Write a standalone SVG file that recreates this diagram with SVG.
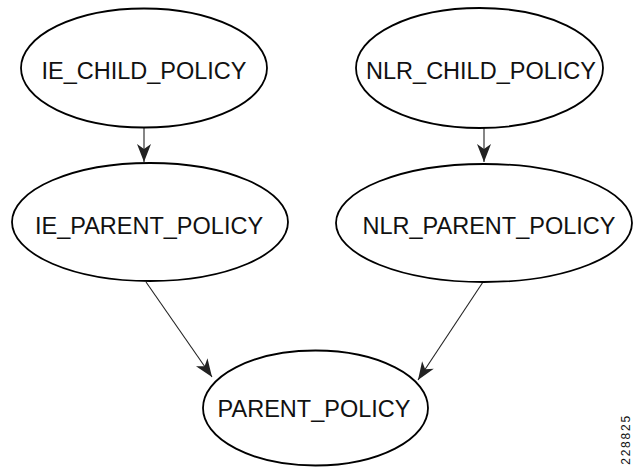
<svg xmlns="http://www.w3.org/2000/svg" width="633" height="467" viewBox="0 0 633 467">
<style>
.n{fill:#fff;stroke:#000;stroke-width:1.8}
.t{font-family:"Liberation Sans",Arial,sans-serif;font-size:23.5px;fill:#111;text-anchor:middle}
.c{stroke:#222;stroke-width:1.1;fill:none}
</style>
<defs>
<marker id="ah" markerUnits="userSpaceOnUse" markerWidth="20" markerHeight="16" viewBox="-19 -8 20 16" refX="0" refY="0" orient="auto">
<path d="M0,0 L-18,-7 L-13,0 L-18,7 Z" fill="#222"/>
</marker>
</defs>
<g id="connectors">
<line class="c" x1="144" y1="128" x2="144" y2="162" marker-end="url(#ah)"/>
<line class="c" x1="484" y1="128" x2="484" y2="162" marker-end="url(#ah)"/>
<line class="c" x1="146" y1="282" x2="212" y2="377" marker-end="url(#ah)"/>
<line class="c" x1="483" y1="282" x2="418" y2="380" marker-end="url(#ah)"/>
</g>
<g id="ie_child">
<ellipse class="n" cx="144" cy="68" rx="123" ry="59.5"/>
<text class="t" x="144" y="79.3">IE_CHILD_POLICY</text>
</g>
<g id="nlr_child">
<ellipse class="n" cx="479.5" cy="68" rx="123.5" ry="60"/>
<text class="t" x="481" y="79.3">NLR_CHILD_POLICY</text>
</g>
<g id="ie_parent">
<ellipse class="n" cx="150" cy="222" rx="138" ry="59"/>
<text class="t" x="149" y="234">IE_PARENT_POLICY</text>
</g>
<g id="nlr_parent">
<ellipse class="n" cx="484" cy="223" rx="148" ry="59"/>
<text class="t" x="489" y="234">NLR_PARENT_POLICY</text>
</g>
<g id="parent">
<ellipse class="n" cx="315.5" cy="408" rx="112.5" ry="57.5"/>
<text class="t" x="314" y="417.3">PARENT_POLICY</text>
</g>
<text x="629.5" y="414" transform="rotate(-90 629.5 414)" font-family="Liberation Sans, Arial, sans-serif" font-size="12" letter-spacing="1.8" fill="#111" text-anchor="end">228825</text>
</svg>
